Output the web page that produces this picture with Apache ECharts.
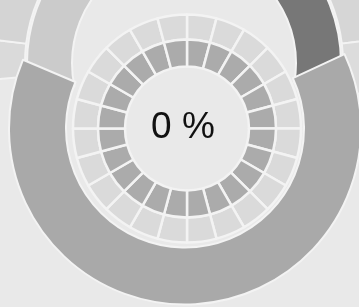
<!DOCTYPE html>
<html>
<head>
<meta charset="utf-8">
<script src="https://cdn.jsdelivr.net/npm/echarts@6/dist/echarts.min.js"></script>
<style>
  html, body { margin: 0; padding: 0; background: #e9e9e9; }
  #main { width: 359px; height: 307px; }
</style>
</head>
<body>
<div id="main"></div>
<script>
// value printed in the middle
var percentValue = 0
// big ring, degrees: [gray arc, open top]
var bigRing = [228, 132]
// pieces sitting above the ring, degrees: [dark, gap, light]
var topPieces = [100, 158, 102]
// outermost corner pieces, degrees: [light, light, gap, light, light, gap]
var cornerPieces = [53, 17, 165, 12, 53, 60]
// 24 cells in each of the two inner rings
var outerCells = [1, 1, 1, 1, 1, 1, 1, 1, 1, 1, 1, 1, 1, 1, 1, 1, 1, 1, 1, 1, 1, 1, 1, 1]
var innerCells = [1, 1, 1, 1, 1, 1, 1, 1, 1, 1, 1, 1, 1, 1, 1, 1, 1, 1, 1, 1, 1, 1, 1, 1]

var SEP = '#f3f3f3'

function pieces (values, colors, bw) {
  return values.map(function (v, i) {
    var c = colors[i % colors.length]
    return {
      value: v,
      itemStyle: c
        ? { color: c, borderColor: SEP, borderWidth: bw }
        : { color: 'transparent', borderWidth: 0 }
    }
  })
}

function ring (center, radius, startAngle, data, z) {
  return {
    type: 'pie',
    center: center,
    radius: radius,
    startAngle: startAngle,
    clockwise: true,
    silent: true,
    animation: false,
    avoidLabelOverlap: false,
    label: { show: false },
    labelLine: { show: false },
    z: z,
    data: data
  }
}

var chart = echarts.init(document.getElementById('main'))
chart.setOption({
  backgroundColor: '#e9e9e9',
  animation: false,
  graphic: [{
    type: 'text',
    x: 183,
    y: 128,
    z: 100,
    style: {
      text: percentValue + ' %',
      font: '37px "Liberation Sans"',
      fill: '#111',
      align: 'center',
      verticalAlign: 'middle'
    }
  }],
  series: [
    ring([184, 63], [159, 260], 60, pieces(cornerPieces, ['#d6d6d6', '#dcdcdc', null, '#dadada', '#d4d4d4', null], 2), 1),
    ring([184, 63], [112, 157], 90, pieces(topPieces, ['#777777', null, '#cbcbcb'], 2), 2),
    ring([185, 128.5], [119, 176], 25, pieces(bigRing, ['#a9a9a9', null], 2), 3),
    ring([187, 128.5], [89, 114], 90, pieces(outerCells, ['#dadada'], 2.5), 4),
    ring([187, 128.5], [62, 89], 90, pieces(innerCells, ['#ababab'], 2.5), 5)
  ]
})
</script>
</body>
</html>
